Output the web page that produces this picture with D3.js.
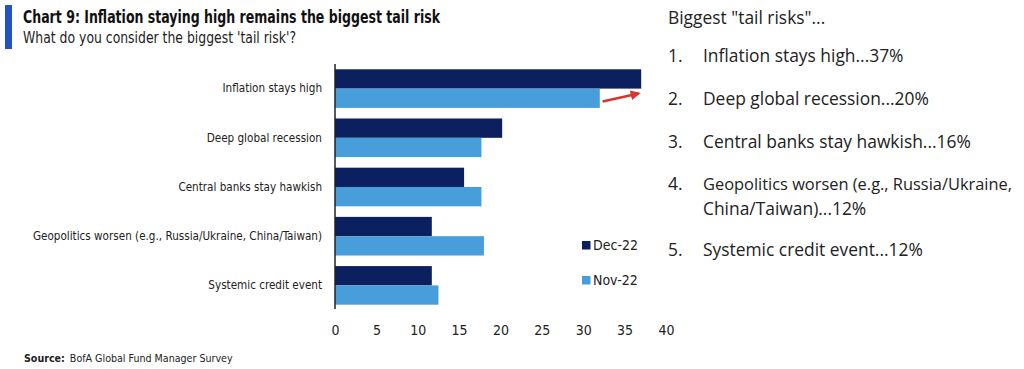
<!DOCTYPE html>
<html><head><meta charset="utf-8">
<script src="https://cdn.jsdelivr.net/npm/d3@7"></script>
<style>
body{margin:0;background:#fff;}
svg{display:block;}
</style></head>
<body>
<svg id="c" width="1024" height="369"></svg>
<script>
const categories = ["Inflation stays high","Deep global recession","Central banks stay hawkish","Geopolitics worsen (e.g., Russia/Ukraine, China/Taiwan)","Systemic credit event"];
const seriesNames = ["Dec-22","Nov-22"];
const dec22 = [37, 20.2, 15.6, 11.7, 11.7];
const nov22 = [32, 17.7, 17.7, 18, 12.5];
const xTicks = [0,5,10,15,20,25,30,35,40];
const listItems = [
  ["1.", ["Inflation stays high...37%"]],
  ["2.", ["Deep global recession...20%"]],
  ["3.", ["Central banks stay hawkish...16%"]],
  ["4.", ["Geopolitics worsen (e.g., Russia/Ukraine,","China/Taiwan)...12%"]],
  ["5.", ["Systemic credit event...12%"]]
];
const colors = ["#0c1f5f","#489ddb"];
const cond = "'Liberation Sans Narrow','DejaVu Sans Condensed','Liberation Sans',sans-serif";
const svg = d3.select("#c");

// header
svg.append("rect").attr("x",5).attr("y",5).attr("width",7).attr("height",44).attr("fill","#2354c4");
svg.append("text").attr("x",23).attr("y",23).attr("font-family",cond).attr("font-weight","bold")
  .attr("font-size",18).attr("fill","#111").attr("textLength",417).attr("lengthAdjust","spacingAndGlyphs")
  .text("Chart 9: Inflation staying high remains the biggest tail risk");
svg.append("text").attr("x",23).attr("y",43).attr("font-family",cond)
  .attr("font-size",15.5).attr("fill","#222").attr("textLength",273).attr("lengthAdjust","spacingAndGlyphs")
  .text("What do you consider the biggest 'tail risk'?");

const x = d3.scaleLinear().domain([0,40]).range([335,666]);
const y = d3.scaleBand().domain(categories).range([64,310]).paddingInner(0.215).paddingOuter(0.1075);
const ys = d3.scaleBand().domain(seriesNames).range([0,y.bandwidth()]);

const data = categories.map((c,i)=>({c, vals:[dec22[i],nov22[i]]}));
const g = svg.append("g");
g.selectAll("g.grp").data(data).join("g").attr("transform",d=>`translate(0,${y(d.c)})`)
  .selectAll("rect").data(d=>d.vals.map((v,j)=>({v,s:seriesNames[j],j}))).join("rect")
  .attr("x",x(0)).attr("y",d=>ys(d.s)).attr("height",ys.bandwidth())
  .attr("width",d=>x(d.v)-x(0)).attr("fill",d=>colors[d.j]);

// y axis
const yAxis = svg.append("g").attr("transform",`translate(${x(0)},0)`)
  .call(d3.axisLeft(y).tickSize(0).tickPadding(13));
yAxis.select(".domain").attr("stroke","#222").attr("stroke-width",1.5).attr("d","M0,64V309");
yAxis.selectAll("text").attr("font-family",cond).attr("font-size",11.6).attr("fill","#222");

// x axis
const xAxis = svg.append("g").attr("transform",`translate(0,322)`)
  .call(d3.axisBottom(x).tickValues(xTicks).tickSize(0).tickPadding(3));
xAxis.select(".domain").remove();
xAxis.selectAll("text").attr("font-family",cond).attr("font-size",14).attr("fill","#222");

// arrow
const defs = svg.append("defs");
defs.append("marker").attr("id","ah").attr("viewBox","0 0 10 10").attr("refX",8).attr("refY",5)
  .attr("markerWidth",4).attr("markerHeight",4).attr("orient","auto")
  .append("path").attr("d","M0,0L10,5L0,10z").attr("fill","#d9352a");
svg.append("line").attr("x1",x(32.1)+2).attr("y1",101.5).attr("x2",x(36.7)).attr("y2",93.5)
  .attr("stroke","#d9352a").attr("stroke-width",2.5).attr("marker-end","url(#ah)");

// legend
const leg = svg.append("g");
seriesNames.forEach((s,i)=>{
  const ly = 245 + i*35;
  leg.append("rect").attr("x",582).attr("y",ly-4).attr("width",8.5).attr("height",8.5).attr("fill",colors[i]);
  leg.append("text").attr("x",593).attr("y",ly).attr("dy","0.35em").attr("font-family",cond)
    .attr("font-size",14).attr("fill","#222").text(s);
});

// source
const src = svg.append("text").attr("x",24).attr("y",362).attr("font-family",cond).attr("font-size",10.6).attr("fill","#222");
src.append("tspan").attr("font-weight","bold").text("Source:");
src.append("tspan").attr("dx",5).text("BofA Global Fund Manager Survey");

// right panel
const rp = svg.append("g").attr("font-family","'Open Sans',sans-serif").attr("fill","#222");
rp.append("text").attr("x",668).attr("y",24).attr("font-size",17.4).text('Biggest "tail risks"...');
const baseY = [62,105,148,190,256];
const maxW = 1012 - 703;
listItems.forEach((it,i)=>{
  rp.append("text").attr("x",668).attr("y",baseY[i]).attr("font-size",17.4).text(it[0]);
  it[1].forEach((ln,k)=>{
    const t = rp.append("text").attr("x",703).attr("y",baseY[i]+k*24.5).attr("font-size",17.4).text(ln);
    if (t.node().getComputedTextLength() > maxW) {
      t.attr("font-size",17.4*maxW/t.node().getComputedTextLength());
    }
  });
});
</script>
</body></html>
